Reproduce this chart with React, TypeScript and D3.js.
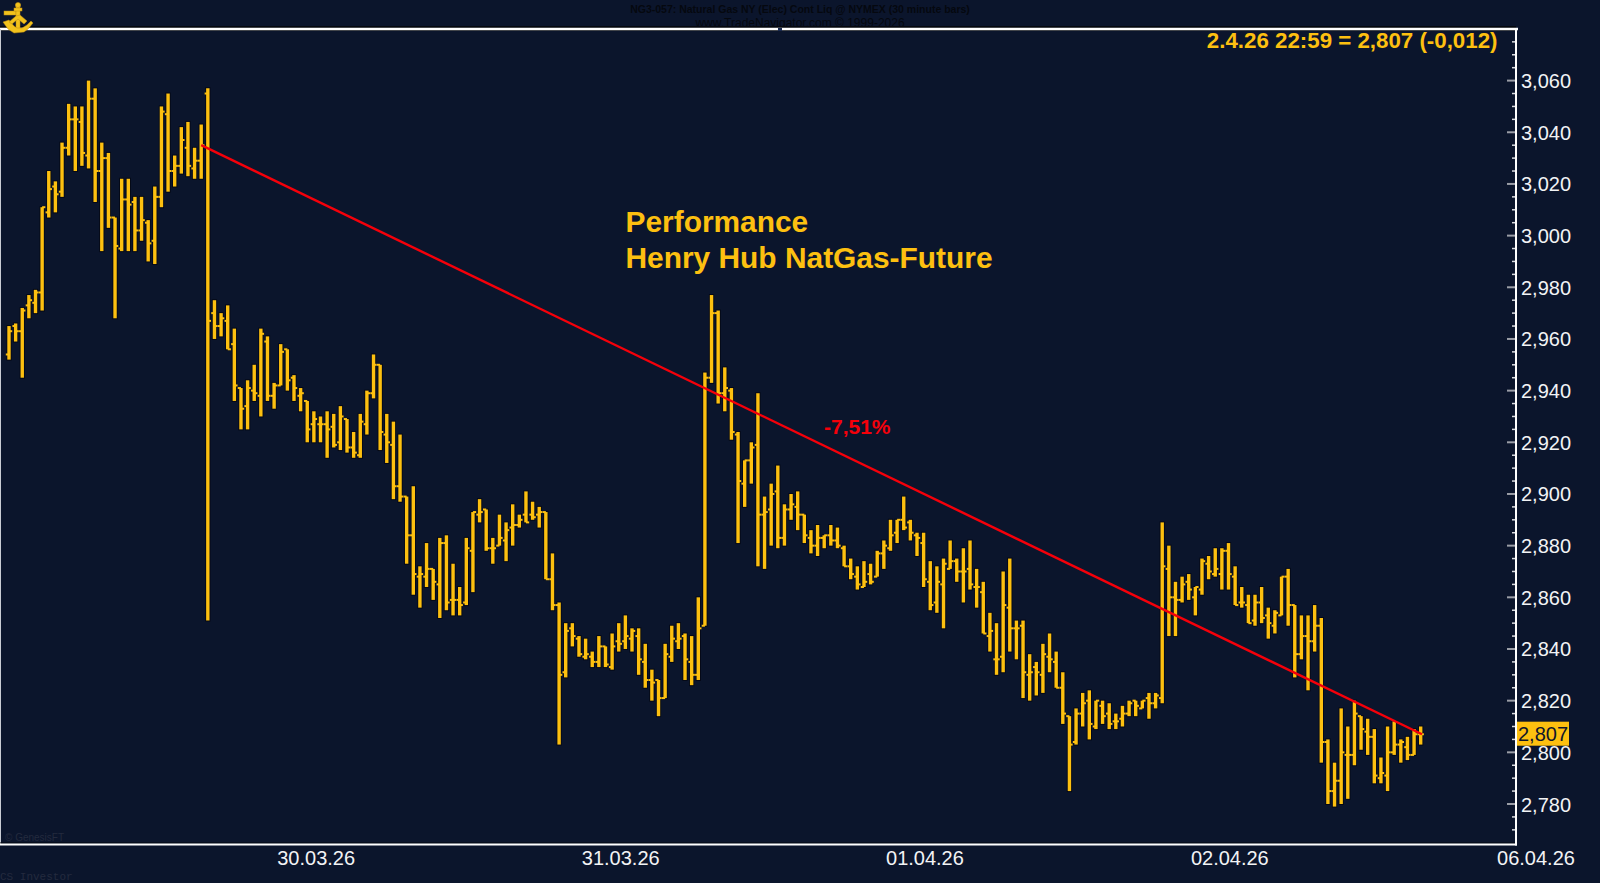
import React from "react";
import * as d3 from "d3";

const opens = [2954,2965,2963,2973,2974,2978,3009,3019,3017,3034,3045,3044,3031,3053,3025,3030,3007,2995,3014,3013,3002,3005,2998,3015,3047,3025,3027,3034,3026,3029,3055,2970,2965,2967,2958,2941,2934,2940,2938,2959,2938,2942,2956,2945,2938,2936,2927,2927,2927,2926,2920,2929,2918,2915,2927,2939,2950,2923,2919,2903,2899,2884,2868,2868,2871,2865,2881,2859,2859,2858,2878,2892,2894,2879,2880,2882,2887,2888,2892,2892,2892,2893,2867,2857,2831,2848,2844,2837,2837,2835,2841,2833,2843,2843,2844,2845,2835,2828,2828,2821,2837,2843,2845,2835,2830,2849,2945,2970,2939,2940,2923,2904,2913,2919,2892,2894,2901,2883,2894,2895,2892,2883,2880,2883,2884,2882,2879,2872,2868,2864,2869,2868,2877,2879,2885,2890,2889,2884,2881,2866,2858,2865,2871,2874,2870,2871,2864,2862,2845,2836,2837,2856,2848,2849,2830,2833,2830,2837,2835,2825,2814,2804,2815,2820,2810,2818,2815,2812,2813,2815,2820,2817,2821,2819,2821,2871,2860,2859,2866,2860,2863,2873,2869,2869,2878,2868,2858,2857,2851,2858,2853,2849,2853,2868,2857,2838,2845,2843,2849,2804,2785,2789,2799,2799,2814,2808,2806,2790,2791,2800,2803,2802,2799,2807];
const highs = [2965,2966,2972,2977,2979,3011,3025,3021,3036,3051,3050,3050,3060,3057,3036,3032,3007,3022,3022,3015,3015,3006,3019,3050,3055,3031,3042,3044,3034,3043,3057,2975,2970,2973,2964,2941,2944,2950,2964,2961,2943,2958,2956,2946,2941,2936,2932,2930,2932,2931,2934,2929,2924,2931,2940,2954,2950,2931,2928,2923,2899,2903,2872,2881,2871,2883,2884,2873,2864,2883,2893,2898,2894,2883,2892,2889,2896,2892,2901,2897,2895,2893,2877,2858,2850,2850,2845,2844,2839,2845,2841,2846,2850,2853,2848,2848,2842,2832,2828,2842,2849,2850,2846,2845,2860,2947,2977,2971,2949,2941,2924,2913,2920,2939,2899,2904,2911,2896,2900,2901,2892,2886,2888,2884,2888,2887,2880,2875,2872,2874,2873,2878,2882,2890,2890,2899,2890,2885,2885,2874,2872,2875,2882,2875,2879,2882,2871,2866,2854,2850,2870,2875,2851,2851,2838,2835,2842,2846,2839,2831,2814,2817,2823,2824,2820,2820,2819,2815,2818,2820,2820,2820,2823,2823,2889,2880,2866,2868,2869,2864,2875,2876,2879,2879,2881,2872,2864,2861,2861,2864,2856,2855,2868,2871,2857,2853,2853,2857,2852,2805,2796,2817,2810,2820,2814,2813,2809,2798,2810,2812,2805,2806,2809,2810];
const lows = [2952,2959,2945,2968,2970,2971,3007,3009,3015,3031,3025,3027,3026,3013,2994,3003,2968,2994,2994,2994,2998,2990,2989,3011,3017,3019,3024,3023,3022,3022,2851,2960,2961,2956,2936,2925,2925,2936,2930,2936,2933,2942,2940,2936,2932,2920,2920,2920,2914,2918,2917,2916,2914,2914,2923,2937,2917,2912,2898,2897,2873,2861,2856,2864,2859,2852,2855,2853,2853,2857,2862,2889,2878,2873,2880,2874,2880,2887,2889,2890,2887,2867,2855,2803,2829,2841,2837,2836,2833,2833,2833,2832,2839,2840,2839,2830,2825,2820,2814,2821,2835,2840,2828,2826,2828,2849,2943,2935,2932,2921,2881,2895,2904,2872,2871,2880,2879,2880,2890,2886,2881,2877,2876,2879,2880,2879,2872,2867,2863,2864,2865,2868,2871,2878,2881,2886,2882,2876,2864,2855,2854,2848,2871,2866,2858,2863,2856,2846,2839,2830,2831,2839,2836,2821,2820,2822,2823,2831,2825,2811,2785,2803,2810,2805,2809,2811,2809,2809,2810,2814,2814,2817,2813,2817,2819,2845,2845,2858,2859,2853,2861,2867,2868,2863,2863,2857,2856,2850,2849,2850,2844,2846,2853,2849,2829,2836,2824,2839,2796,2780,2779,2780,2782,2795,2801,2799,2788,2788,2785,2799,2796,2797,2799,2803];
const closes = [2963,2963,2971,2975,2978,3011,3018,3016,3034,3045,3045,3032,3053,3025,3030,3007,2996,3014,3012,3002,3006,2997,3015,3048,3025,3027,3037,3027,3029,3035,2967,2965,2968,2956,2942,2933,2941,2939,2962,2938,2942,2955,2944,2941,2939,2925,2929,2927,2925,2919,2930,2918,2916,2928,2939,2950,2924,2920,2903,2899,2884,2869,2869,2871,2866,2881,2858,2859,2857,2879,2893,2893,2879,2879,2883,2886,2888,2890,2889,2891,2893,2867,2857,2830,2847,2845,2838,2838,2835,2841,2834,2841,2842,2845,2847,2836,2828,2827,2821,2838,2844,2844,2836,2830,2848,2945,2970,2939,2941,2924,2905,2913,2918,2892,2893,2900,2883,2894,2896,2892,2884,2880,2883,2884,2882,2880,2872,2869,2865,2866,2866,2877,2880,2884,2890,2887,2885,2883,2867,2857,2866,2873,2874,2870,2870,2865,2864,2846,2847,2836,2857,2848,2848,2831,2831,2831,2838,2836,2825,2815,2803,2815,2819,2811,2820,2814,2811,2812,2815,2819,2818,2820,2819,2822,2872,2860,2859,2865,2863,2864,2874,2870,2871,2878,2869,2857,2858,2850,2858,2852,2850,2854,2868,2857,2838,2845,2843,2849,2804,2785,2789,2800,2799,2815,2809,2806,2791,2792,2800,2803,2804,2799,2807,2807];

const yTicks = [2780,2800,2820,2840,2860,2880,2900,2920,2940,2960,2980,3000,3020,3040,3060];
const yMinor = d3.range(2770, 3080, 5);
const xTickLabels = ["30.03.26","31.03.26","01.04.26","02.04.26"];
const xTickBars = [46.35,92.3,138.2,184.2];
const trendFrom = { i: 29, v: 3035 };
const trendTo = { i: 213.2, v: 2807 };

const GOLD = "#fdc010";
const RED = "#f5000a";
const BG = "#0b152c";
const y = d3.scaleLinear().domain([2780, 3060]).range([804, 80.6]);
const x = d3.scaleLinear().domain([0, 213]).range([9, 1420.7]);
const fmt = (v: number) => String(v).replace(/(\d)(\d{3})$/, "$1,$2");
const SANS = "'Liberation Sans', Arial, sans-serif";

export default function App() {
  const line = d3.line<[number, number]>().x(d => x(d[0])).y(d => y(d[1]));
  const trend = line([[trendFrom.i, trendFrom.v],[trendTo.i, trendTo.v]]) || "";
  return (
    <svg width={1600} height={883} style={{ position: "absolute", left: 0, top: 0, background: BG, display: "block" }} fontFamily={SANS}>
      <text x={800} y={13} textAnchor="middle" fontSize={10.5} fontWeight="bold" fill="#05080f">NG3-057:  Natural Gas NY (Elec) Cont Liq @ NYMEX  (30 minute bars)</text>
      <text x={800} y={27} textAnchor="middle" fontSize={12} fill="#05080f">www.TradeNavigator.com © 1999-2026</text>

      <line x1={0} x2={1516} y1={28.5} y2={28.5} stroke="#05080f" strokeWidth={5} />
      <line x1={0} x2={1518} y1={29} y2={29} stroke="#ffffff" strokeWidth={2.4} />
      <rect x={778} y={28} width={4} height={3} fill="#1a2a50" />
      <line x1={0.5} x2={0.5} y1={29} y2={845} stroke="#c9ccd4" strokeWidth={1} />
      <line x1={0} x2={1517} y1={843} y2={843} stroke="#05080f" strokeWidth={1} />
      <line x1={0} x2={1517} y1={844.5} y2={844.5} stroke="#ffffff" strokeWidth={2} />
      <line x1={1516} x2={1516} y1={29} y2={845.5} stroke="#ffffff" strokeWidth={2} />

      <g fill="#f2c21c" stroke="#c08f12" strokeWidth={0.5}>
        <rect x={4} y={11} width={12} height={4} />
        <rect x={16} y={4} width={4} height={26} />
        <circle cx={18} cy={5} r={2.6} />
        <rect x={14} y={8} width={8} height={3} />
        <path d="M3 22 L9 20 L14 26 L17 28 L22 28 L27 25 L31 21 L33 23 L28 29 L24 32 L14 33 L8 29 Z" />
        <path d="M16 16 L9 22 L12 24 L18 19 L24 24 L27 21 L20 15 Z" />
      </g>

      {yMinor.map(v => (
        <line key={v} x1={yTicks.includes(v) ? 1507 : 1512} x2={1515} y1={y(v)} y2={y(v)} stroke={yTicks.includes(v) ? "#9a9da6" : "#d8dade"} strokeWidth={yTicks.includes(v) ? 2 : 1.5} />
      ))}
      {yTicks.map(v => (
        <text key={v} x={1521} y={y(v) + 7.5} fontSize={20} fill="#f2f3f5">{fmt(v)}</text>
      ))}
      {xTickLabels.map((t, k) => (
        <text key={t} x={x(xTickBars[k])} y={864.5} textAnchor="middle" fontSize={20} fill="#f2f3f5">{t}</text>
      ))}
      <text x={1536} y={864.5} textAnchor="middle" fontSize={20} fill="#f2f3f5">06.04.26</text>

      <g>
        {opens.map((o, i) => (
          <line key={i} x1={x(i)} x2={x(i)} y1={y(highs[i]) - 1} y2={y(lows[i]) + 1} stroke="#050916" strokeWidth={5.2} />
        ))}
        {opens.map((o, i) => (
          <g key={i} stroke={GOLD}>
            <line x1={x(i)} x2={x(i)} y1={y(highs[i])} y2={y(lows[i])} strokeWidth={3.4} />
            <line x1={x(i) - 3.2} x2={x(i)} y1={y(o)} y2={y(o)} strokeWidth={2} />
            <line x1={x(i)} x2={x(i) + 3.2} y1={y(closes[i])} y2={y(closes[i])} strokeWidth={2} />
          </g>
        ))}
      </g>

      <path d={trend} stroke={RED} strokeWidth={2.4} fill="none" />

      <text x={1497.5} y={47.5} textAnchor="end" fontSize={22.3} fontWeight="bold" fill={GOLD}>2.4.26 22:59 = 2,807 (-0,012)</text>
      <text x={625.5} y={231.7} fontSize={29.9} fontWeight="bold" fill={GOLD}>Performance</text>
      <text x={625.5} y={267.7} fontSize={29.9} fontWeight="bold" fill={GOLD}>Henry Hub NatGas-Future</text>
      <text x={824} y={433.5} fontSize={21} fontWeight="bold" fill={RED}>-7,51%</text>

      <rect x={1517} y={721.7} width={52} height={24} fill={GOLD} />
      <text x={1518} y={741} fontSize={20} fill="#10162a">{fmt(closes[closes.length - 1])}</text>

      <text x={5} y={841} fontSize={10} fill="#232a3e">© GenesisFT</text>
      <text x={0} y={880} fontSize={11} fontFamily="'Liberation Mono', monospace" fill="#232a3e">CS Investor</text>
    </svg>
  );
}
